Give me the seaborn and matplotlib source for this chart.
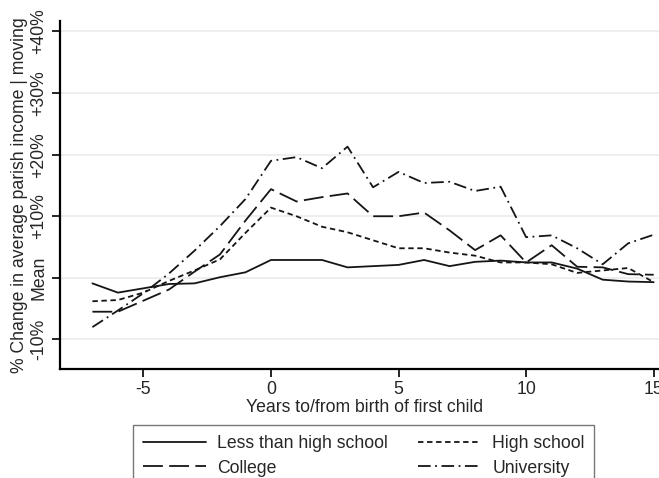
import pandas as pd
import seaborn as sns
import matplotlib
matplotlib.use('Agg')
import matplotlib.pyplot as plt

years = list(range(-7, 16))
less_than_hs = [-0.9, -2.4, -1.7, -1.0, -0.9, 0.1, 0.9, 2.9, 2.9, 2.9, 1.7, 1.9,
                2.1, 2.9, 1.9, 2.6, 2.8, 2.5, 2.5, 1.5, -0.3, -0.6, -0.7]
high_school = [-3.8, -3.6, -2.4, -0.5, 1.2, 3.0, 7.3, 11.4, 10.0, 8.3, 7.4, 6.1,
               4.8, 4.8, 4.1, 3.6, 2.5, 2.5, 2.2, 0.8, 1.2, 1.6, -0.7]
college = [-5.5, -5.5, -3.7, -1.9, 1.0, 3.8, 9.3, 14.4, 12.4, 13.1, 13.7, 10.0,
           10.0, 10.6, 7.7, 4.5, 6.9, 2.5, 5.3, 1.8, 1.7, 0.6, 0.5]
university = [-8.0, -5.3, -2.5, 0.7, 4.4, 8.4, 12.8, 19.0, 19.6, 17.8, 21.3, 14.7,
              17.2, 15.4, 15.6, 14.1, 14.8, 6.6, 6.9, 4.8, 2.2, 5.6, 7.0]

groups = ['Less than high school', 'High school', 'College', 'University']
series = [less_than_hs, high_school, college, university]
ytick_vals = [-10, 0, 10, 20, 30, 40]
ytick_labels = ['-10%', 'Mean', '+10%', '+20%', '+30%', '+40%']
xtick_vals = [-5, 0, 5, 10, 15]

df = pd.concat([pd.DataFrame({'year': years, 'value': s, 'group': g})
                for g, s in zip(groups, series)], ignore_index=True)

sns.set_style('white')
plt.rcParams['font.family'] = ['Liberation Sans', 'DejaVu Sans']
FS = 12.7

fig = plt.figure(figsize=(6.59, 4.78), dpi=100)
W, H = 659, 478
ax = fig.add_axes([60 / W, 1 - 369 / H, 609 / W, 348 / H])

dash_map = {
    'Less than high school': '',
    'High school': (3, 2),
    'College': (11, 3.5),
    'University': (7, 2.5, 1, 2.5),
}
sns.lineplot(data=df, x='year', y='value', style='group', style_order=groups,
             dashes=dash_map, color='#151515', linewidth=1.3, legend=False, ax=ax)

ax.set_xlim(-8.27, 15.6)
ax.set_ylim(-14.8, 41.7)
ax.set_xticks(xtick_vals)
ax.set_xticklabels([str(v) for v in xtick_vals], fontsize=FS)
ax.set_yticks(ytick_vals)
ax.set_yticklabels(ytick_labels, fontsize=FS, rotation=90, va='center')
ax.tick_params(axis='both', direction='out', length=6, width=1.2, color='black',
               left=True, bottom=True, pad=3)
ax.yaxis.grid(True, color='#eeeeee', linewidth=1.4)
ax.xaxis.grid(False)
for side in ['top', 'right']:
    ax.spines[side].set_visible(False)
for side in ['left', 'bottom']:
    ax.spines[side].set_color('black')
    ax.spines[side].set_linewidth(1.6)

ax.set_xlabel('Years to/from birth of first child', fontsize=FS, labelpad=0)
ax.set_ylabel('% Change in average parish income | moving', fontsize=FS, labelpad=2)

lines = ax.get_lines()
order = [0, 2, 1, 3]
leg = fig.legend([lines[i] for i in order], [groups[i] for i in order],
                 loc='upper left', bbox_to_anchor=(133 / W, 1 - 425 / H),
                 ncol=2, fontsize=FS, frameon=True, fancybox=False,
                 handlelength=3.6, handletextpad=0.62, columnspacing=1.7,
                 labelspacing=0.45, borderpad=0.55, borderaxespad=0)
leg.get_frame().set_edgecolor('#555555')
leg.get_frame().set_linewidth(1.0)

fig.savefig('out.png', dpi=100)
